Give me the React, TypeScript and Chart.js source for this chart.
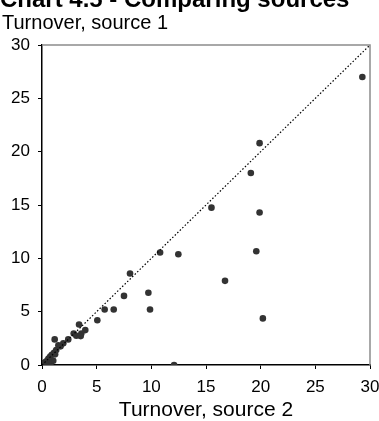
import React, { useEffect, useRef } from "react";
import { Chart, registerables } from "chart.js";

Chart.register(...registerables);

const titleText = "Chart 4.5 - Comparing sources";
const yAxisLabel = "Turnover, source 1";
const xAxisLabel = "Turnover, source 2";

// x = source 2, y = source 1
const sourceTwo = [
  29.3, 19.9, 19.1, 15.5, 19.9, 19.6, 16.74, 20.2, 10.8, 12.47, 8.05, 7.5, 9.73, 5.73, 6.56, 9.88,
  12.08, 5.06, 3.39, 3.96, 3.6, 2.9, 3.14, 3.54, 1.16, 2.4, 1.95, 1.5,
  1.7, 1.3, 1.1, 0.9, 0.75, 0.6, 0.5, 0.35, 0.2, 0.1, 0.0, 0.4, 0.8, 1.03, 0.6, 1.2, 0.3,
];
const sourceOne = [
  27.0, 20.8, 18.0, 14.75, 14.3, 10.66, 7.89, 4.37, 10.54, 10.38, 8.58, 6.48, 6.77, 5.21, 5.21, 5.21,
  0.0, 4.2, 3.8, 3.27, 2.96, 2.96, 2.74, 2.71, 2.4, 2.4, 2.03, 1.84,
  1.75, 1.4, 1.15, 0.95, 0.8, 0.6, 0.45, 0.3, 0.2, 0.05, 0.1, 0.0, 0.2, 0.4, 0.25, 1.0, 0.1,
];
const diagonalX = [0, 30];
const diagonalY = [0, 30];
const axisMin = 0;
const axisMax = 30;
const axisStep = 5;

const FONT = "'Liberation Sans', Arial, sans-serif";

const frameAndTitles = {
  id: "frameAndTitles",
  afterDatasetsDraw(chart: any) {
    const { ctx, chartArea } = chart;
    ctx.save();
    ctx.strokeStyle = "#8c8c8c";
    ctx.lineWidth = 1.5;
    ctx.beginPath();
    ctx.moveTo(chartArea.left, chartArea.top);
    ctx.lineTo(chartArea.right, chartArea.top);
    ctx.lineTo(chartArea.right, chartArea.bottom);
    ctx.stroke();
    ctx.restore();
  },
  afterDraw(chart: any) {
    const { ctx } = chart;
    ctx.save();
    ctx.fillStyle = "#000";
    ctx.textAlign = "left";
    ctx.textBaseline = "alphabetic";
    ctx.font = `bold 24px ${FONT}`;
    ctx.fillText(titleText, 0, 6.5);
    ctx.font = `20px ${FONT}`;
    ctx.fillText(yAxisLabel, 2, 29);
    ctx.restore();
  },
};

export default function App() {
  const ref = useRef<HTMLCanvasElement | null>(null);
  useEffect(() => {
    if (!ref.current) return;
    const points = sourceTwo.map((x, i) => ({ x, y: sourceOne[i] }));
    const diag = diagonalX.map((x, i) => ({ x, y: diagonalY[i] }));
    const chart = new Chart(ref.current, {
      type: "scatter",
      data: {
        datasets: [
          {
            type: "line",
            data: diag,
            borderColor: "#000",
            borderWidth: 1.2,
            borderDash: [1.5, 2],
            pointRadius: 0,
            fill: false,
          } as any,
          {
            data: points,
            backgroundColor: "#333",
            borderWidth: 0,
            pointRadius: 3.3,
          },
        ],
      },
      options: {
        animation: false,
        responsive: false,
        maintainAspectRatio: false,
        layout: { padding: { left: 0, right: 9, top: 45, bottom: 0 } },
        plugins: {
          legend: { display: false },
          tooltip: { enabled: false },
          title: { display: false },
        },
        scales: {
          x: {
            type: "linear",
            min: axisMin,
            max: axisMax,
            afterFit: (s: any) => {
              s.height = 56;
              s.paddingLeft = 0;
              s.paddingRight = 0;
            },
            ticks: { stepSize: axisStep, color: "#000", font: { family: FONT, size: 17, lineHeight: 1 }, padding: 10 },
            grid: { drawOnChartArea: false, drawTicks: true, tickLength: 4, color: "#000" },
            border: { display: true, color: "#000", width: 1.5 },
            title: {
              display: true,
              text: xAxisLabel,
              color: "#000",
              font: { family: FONT, size: 21, lineHeight: 1 },
              padding: { top: 4, bottom: 0 },
            },
          },
          y: {
            type: "linear",
            min: axisMin,
            max: axisMax,
            afterFit: (s: any) => {
              s.width = 42;
              s.paddingTop = 0;
              s.paddingBottom = 0;
            },
            ticks: { stepSize: axisStep, color: "#000", font: { family: FONT, size: 17 }, padding: 8 },
            grid: { drawOnChartArea: false, drawTicks: true, tickLength: 4, color: "#000" },
            border: { display: true, color: "#000", width: 1.5 },
          },
        },
      },
      plugins: [frameAndTitles],
    });
    return () => chart.destroy();
  }, []);
  return (
    <div style={{ position: "absolute", left: 0, top: 0, width: 379, height: 421, background: "#fff" }}>
      <canvas ref={ref} width={379} height={421} style={{ width: 379, height: 421 }} />
    </div>
  );
}
